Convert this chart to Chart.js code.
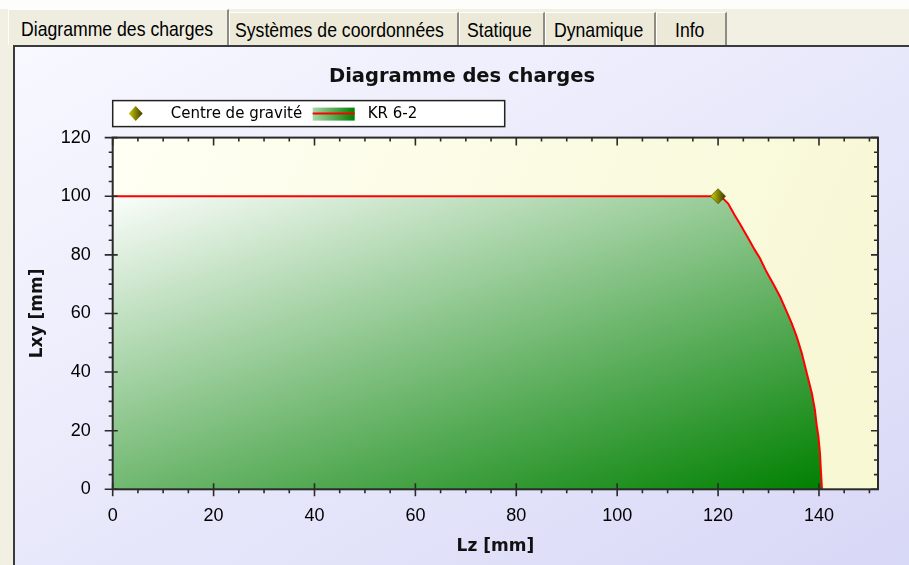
<!DOCTYPE html>
<html>
<head>
<meta charset="utf-8">
<title>Diagramme des charges</title>
<script src="https://cdn.jsdelivr.net/npm/chart.js@4.4.1/dist/chart.umd.min.js"></script>
<style>
  html, body { margin: 0; padding: 0; width: 909px; height: 565px; overflow: hidden; background: #fdfdfb; font-family: "Liberation Sans", Arial, sans-serif; }
  #strip { position: absolute; left: 0; top: 9px; width: 909px; height: 36px; background: #f2f0e2; border-bottom: 1px solid #fff; }
  #side { position: absolute; left: 0; top: 45px; width: 13px; height: 520px; background: #f2f0e2; }
  .tab { position: absolute; top: 12px; height: 33px; background: #ece9d8; border-top: 1px solid #fff; border-left: 1px solid #fff; border-right: 2px solid #8e8c80; box-sizing: border-box; white-space: nowrap; overflow: hidden; }
  .tab.active { top: 9px; height: 36px; background: #efede0; }
  .tab span { position: absolute; top: 0; display: inline-block; font-size: 21px; line-height: 33px; transform: scaleX(0.84); transform-origin: 0 50%; color: #000; }
  .tab.active span { line-height: 38px; }
  #panel { position: absolute; left: 13px; top: 45px; width: 896px; height: 520px; border-left: 2px solid #3a3a3a; border-top: 2px solid #3a3a3a; box-sizing: border-box; background: linear-gradient(to bottom right, #f8f8ff, #d8d8f7); }
  #chart { position: absolute; left: 0; top: 0; }
</style>
</head>
<body>
<div id="strip"></div>
<div id="side"></div>
<div class="tab active" style="left:8px;width:221px"><span style="left:12px">Diagramme des charges</span></div>
<div class="tab" style="left:229px;width:230px"><span style="left:5px">Systèmes de coordonnées</span></div>
<div class="tab" style="left:459px;width:86px"><span style="left:7px">Statique</span></div>
<div class="tab" style="left:545px;width:111px"><span style="left:8px">Dynamique</span></div>
<div class="tab" style="left:656px;width:71px"><span style="left:18px">Info</span></div>
<div id="panel"><canvas id="chart" width="894" height="518"></canvas></div>
<script>
// load curve (Lz, Lxy) in mm
const lz = [0, 120, 121.0, 122.0, 123.3, 124.3, 126.0, 127.3, 128.3, 129.6, 130.9, 132.3, 133.6, 134.6, 135.6, 136.6, 137.6, 138.6, 139.2, 139.5, 139.9, 140.2, 140.4, 140.6];
const lxy = [100, 100, 99.2, 97.5, 93.5, 90.7, 85.6, 81.6, 78.8, 74.2, 70.2, 65.7, 60.6, 56.6, 52.0, 46.4, 39.5, 32.7, 27.0, 22.5, 17.9, 12.3, 6.0, 0];
// centre de gravité
const cogLz = [120];
const cogLxy = [100];
const xTicks = [0, 20, 40, 60, 80, 100, 120, 140];
const yTicks = [0, 20, 40, 60, 80, 100, 120];
const xMax = 151.7;
const minorStep = 5;

function loadFill(context) {
  const chart = context.chart;
  const x = chart.scales.x, y = chart.scales.y;
  if (!chart.chartArea || !x || !y) return 'rgba(0,128,0,0.5)';
  const x0 = x.getPixelForValue(0), y0 = y.getPixelForValue(Math.max(...lxy));
  const w = x.getPixelForValue(Math.max(...lz)) - x0;
  const h = y.getPixelForValue(0) - y0;
  const gx = 0.45 / w, gy = 0.55 / h;
  const n = gx * gx + gy * gy;
  const g = chart.ctx.createLinearGradient(x0, y0, x0 + gx / n, y0 + gy / n);
  g.addColorStop(0, '#fbfdfb');
  g.addColorStop(1, '#008000');
  return g;
}

function markerGradient(ctx, px) {
  const g = ctx.createLinearGradient(px - 7, 0, px + 7, 0);
  g.addColorStop(0, '#cccc00');
  g.addColorStop(1, '#3a3a00');
  return g;
}

function markerFill(context) {
  const chart = context.chart;
  if (!chart.chartArea) return '#8c8c00';
  return markerGradient(chart.ctx, chart.scales.x.getPixelForValue(cogLz[0]));
}

const plotBackground = {
  id: 'plotBackground',
  beforeDatasetsDraw(chart) {
    const { ctx, chartArea: a } = chart;
    const g = ctx.createLinearGradient(a.left, a.top, a.right, a.bottom);
    g.addColorStop(0, '#fffff4');
    g.addColorStop(1, '#f7f7d2');
    ctx.save();
    ctx.fillStyle = g;
    ctx.fillRect(a.left, a.top, a.width, a.height);
    ctx.restore();
  }
};

const frameTicks = {
  id: 'frameTicks',
  afterDatasetsDraw(chart) {
    const { ctx, chartArea: a, scales: { x, y } } = chart;
    ctx.save();
    ctx.strokeStyle = '#2a2a2a';
    ctx.lineWidth = 2;
    ctx.strokeRect(a.left, a.top, a.width, a.height);
    ctx.lineWidth = 1.6;
    ctx.beginPath();
    for (let v = 0; v <= x.max; v += minorStep) {
      const px = x.getPixelForValue(v);
      const major = xTicks.includes(v);
      ctx.moveTo(px, a.bottom - (major ? 6 : 0));
      ctx.lineTo(px, a.bottom + (major ? 7 : 4));
      ctx.moveTo(px, a.top);
      ctx.lineTo(px, a.top + (major ? 8 : 4));
    }
    for (let v = 0; v <= y.max; v += minorStep) {
      const py = y.getPixelForValue(v);
      const major = yTicks.includes(v);
      ctx.moveTo(a.left - (major ? 8 : 4), py);
      ctx.lineTo(a.left + (major ? 5 : 0), py);
      ctx.moveTo(a.right, py);
      ctx.lineTo(a.right - (major ? 7 : 4), py);
    }
    ctx.stroke();
    ctx.restore();
  }
};

const boxedLegend = {
  id: 'boxedLegend',
  afterDraw(chart) {
    const { ctx, chartArea: a } = chart;
    const ds = chart.data.datasets;
    const left = a.left, top = a.top - 37, w = 392, h = 26;
    const cy = top + h / 2;
    ctx.save();
    ctx.fillStyle = '#ffffff';
    ctx.fillRect(left, top, w, h);
    ctx.strokeStyle = '#222';
    ctx.lineWidth = 1.5;
    ctx.strokeRect(left, top, w, h);

    // marker
    const mx = left + 23;
    ctx.beginPath();
    ctx.moveTo(mx, cy - 7.5);
    ctx.lineTo(mx + 7, cy);
    ctx.lineTo(mx, cy + 7.5);
    ctx.lineTo(mx - 7, cy);
    ctx.closePath();
    ctx.fillStyle = markerGradient(ctx, mx);
    ctx.fill();

    ctx.font = '15px "DejaVu Sans"';
    ctx.fillStyle = '#000';
    ctx.textBaseline = 'middle';
    ctx.fillText(ds[0].label, left + 58, cy + 1);

    // swatch
    const sx = left + 200, sw = 42;
    const g = ctx.createLinearGradient(sx, 0, sx + sw, 0);
    g.addColorStop(0, '#a8d8a8');
    g.addColorStop(1, '#008000');
    ctx.fillStyle = g;
    ctx.fillRect(sx, cy - 6, sw, 13);
    ctx.strokeStyle = '#ff0000';
    ctx.lineWidth = 2;
    ctx.beginPath();
    ctx.moveTo(sx, cy);
    ctx.lineTo(sx + sw, cy);
    ctx.stroke();

    ctx.fillStyle = '#000';
    ctx.fillText(ds[1].label, left + 255, cy + 1);
    ctx.restore();
  }
};

new Chart(document.getElementById('chart'), {
  type: 'line',
  data: {
    datasets: [
      {
        label: 'Centre de gravité',
        data: cogLz.map((v, i) => ({ x: v, y: cogLxy[i] })),
        showLine: false,
        pointStyle: 'rectRot',
        pointRadius: 7.5,
        pointBackgroundColor: markerFill,
        pointBorderColor: 'rgba(60,60,0,0.6)',
        pointBorderWidth: 1
      },
      {
        label: 'KR 6-2',
        data: lz.map((v, i) => ({ x: v, y: lxy[i] })),
        borderColor: '#ff0000',
        borderWidth: 2,
        backgroundColor: loadFill,
        fill: 'origin',
        pointRadius: 0,
        tension: 0
      }
    ]
  },
  options: {
    responsive: false,
    animation: false,
    devicePixelRatio: 1,
    // symmetric side padding keeps the title centred on the panel
    layout: { padding: { top: 0, left: 31, right: 31, bottom: 0 } },
    plugins: {
      legend: { display: false },
      tooltip: { enabled: false },
      title: {
        display: true,
        text: 'Diagramme des charges',
        color: '#111',
        font: { family: 'DejaVu Sans', size: 19.5, weight: 'bold' },
        padding: { top: 18.4, bottom: 48.8 }
      }
    },
    scales: {
      x: {
        type: 'linear',
        min: 0,
        max: xMax,
        afterBuildTicks: s => { s.ticks = xTicks.map(v => ({ value: v })); },
        afterFit: s => { s.height = 75.7; },
        grid: { display: false, drawTicks: false },
        border: { display: false },
        ticks: { color: '#000', font: { family: 'Liberation Sans', size: 18 }, padding: 16, maxRotation: 0, autoSkip: false },
        title: { display: true, text: 'Lz [mm]', color: '#111', font: { family: 'DejaVu Sans', size: 17, weight: 'bold' }, padding: { top: 0, bottom: 7.8 } }
      },
      y: {
        type: 'linear',
        min: 0,
        max: 120,
        afterBuildTicks: s => { s.ticks = yTicks.map(v => ({ value: v })); },
        afterFit: s => { s.width = 66.7; },
        grid: { display: false, drawTicks: false },
        border: { display: false },
        ticks: { color: '#000', font: { family: 'Liberation Sans', size: 18 }, padding: 22 },
        title: { display: true, text: 'Lxy [mm]', color: '#111', font: { family: 'DejaVu Sans', size: 17, weight: 'bold' }, padding: { top: -18.2, bottom: 0 } }
      }
    }
  },
  plugins: [plotBackground, frameTicks, boxedLegend]
});
</script>
</body>
</html>
